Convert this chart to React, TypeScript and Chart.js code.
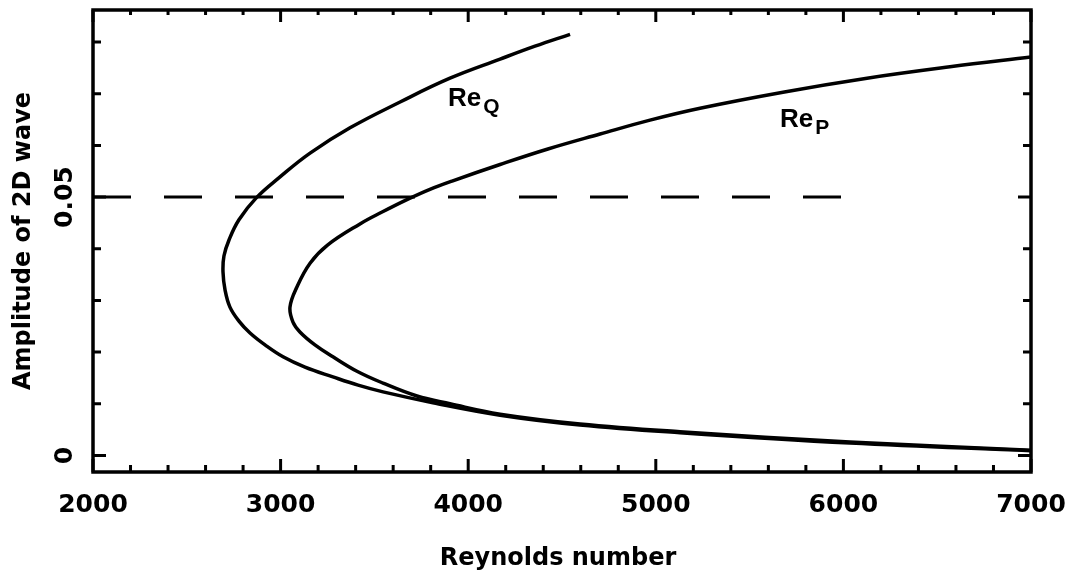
import React, { useEffect, useRef } from "react";
import { Chart, registerables } from "chart.js";

Chart.register(...registerables);

// Neutral curve Re_Q: amplitude of the 2D wave against Reynolds number,
// traced from the upper end, round the nose, out along the lower branch.
const reQ = [4543, 4356, 4170, 3903, 3637, 3370, 3157, 2997, 2869, 2778, 2725, 2698, 2693, 2704, 2730, 2778, 2837, 2917, 3013, 3130, 3279, 3413, 3546, 3812, 4170, 4596, 5129, 6035, 7000];
const ampQ = [0.0815, 0.0792, 0.0767, 0.073, 0.0684, 0.0634, 0.0585, 0.0539, 0.0498, 0.0456, 0.0417, 0.0386, 0.0355, 0.032, 0.0287, 0.026, 0.0237, 0.0214, 0.0191, 0.0171, 0.0152, 0.0136, 0.0123, 0.0102, 0.0078, 0.0059, 0.0044, 0.0024, 0.0009];

// Neutral curve Re_P, from the right-hand upper end back round its nose.
const reP = [7000, 6568, 6126, 5678, 5236, 4969, 4703, 4425, 4170, 3914, 3796, 3679, 3541, 3423, 3250, 3157, 3087, 3050, 3066, 3103, 3183, 3279, 3407, 3546, 3727, 3903, 4170, 4596, 5129, 6035, 7000];
const ampP = [0.0771, 0.0752, 0.073, 0.0703, 0.0672, 0.0649, 0.0622, 0.0593, 0.0563, 0.0531, 0.0515, 0.0496, 0.0471, 0.0448, 0.0407, 0.0372, 0.0326, 0.0287, 0.0258, 0.0239, 0.0214, 0.0191, 0.0163, 0.014, 0.0115, 0.01, 0.008, 0.0061, 0.0046, 0.0026, 0.001];

// Reference amplitude drawn as a dashed level.
const levelRe = [2000, 6000];
const levelAmp = [0.05, 0.05];

// Axis ranges and labels.
const xRange = [2000, 7000];
const yRange = [-0.0032, 0.0862];
const xTickLabels = ["2000", "3000", "4000", "5000", "6000", "7000"];
const xTickValues = [2000, 3000, 4000, 5000, 6000, 7000];
const xMinorStep = 200;
const yTickLabels = ["0", "0.05"];
const yTickValues = [0, 0.05];
const yMinorStep = 0.01;
const yMinorCount = 8;

const xTitle = "Reynolds number";
const yTitle = "Amplitude of 2D wave";

// Curve annotations: main text, subscript, and anchor in data units.
const curveLabels = [
  { main: "Re", sub: "Q", re: 3892, amp: 0.0676 },
  { main: "Re", sub: "P", re: 5662, amp: 0.0635 },
];

const FONT = '"DejaVu Sans", "Liberation Sans", sans-serif';
const LABEL_FONT = '"Liberation Sans", Arial, sans-serif';

const toPoints = (xs: number[], ys: number[]) => xs.map((x, i) => ({ x, y: ys[i] }));

const framePlugin = {
  id: "frameAndText",
  afterDatasetsDraw(chart: any) {
    const ctx: CanvasRenderingContext2D = chart.ctx;
    const { left, right, top, bottom } = chart.chartArea;
    const xs = chart.scales.x;
    const ys = chart.scales.y;
    ctx.save();
    ctx.strokeStyle = "#000";
    ctx.fillStyle = "#000";
    ctx.lineCap = "butt";

    // inward tick marks on all four sides
    ctx.lineWidth = 3;
    const nx = Math.round((xRange[1] - xRange[0]) / xMinorStep);
    for (let i = 0; i <= nx; i++) {
      const v = xRange[0] + i * xMinorStep;
      const major = xTickValues.includes(v);
      const px = xs.getPixelForValue(v);
      const lb = major ? 13 : 7;
      const lt = major ? 12 : 5;
      ctx.beginPath();
      ctx.moveTo(px, bottom);
      ctx.lineTo(px, bottom - lb);
      ctx.moveTo(px, top);
      ctx.lineTo(px, top + lt);
      ctx.stroke();
    }
    for (let i = 0; i <= yMinorCount; i++) {
      const v = i * yMinorStep;
      const major = yTickValues.some((t) => Math.abs(t - v) < 1e-9);
      const py = ys.getPixelForValue(v);
      const l = major ? 13 : 8;
      ctx.beginPath();
      ctx.moveTo(left, py);
      ctx.lineTo(left + l, py);
      ctx.moveTo(right, py);
      ctx.lineTo(right - l, py);
      ctx.stroke();
    }

    // frame
    ctx.lineWidth = 3.5;
    ctx.strokeRect(left, top, right - left, bottom - top);

    // x tick labels
    ctx.font = `bold 25px ${FONT}`;
    ctx.textAlign = "center";
    ctx.textBaseline = "alphabetic";
    xTickLabels.forEach((lab, i) => {
      ctx.fillText(lab, xs.getPixelForValue(xTickValues[i]), bottom + 40);
    });

    // y tick labels, rotated
    yTickLabels.forEach((lab, i) => {
      ctx.save();
      ctx.translate(left - 21, ys.getPixelForValue(yTickValues[i]));
      ctx.rotate(-Math.PI / 2);
      ctx.fillText(lab, 0, 0);
      ctx.restore();
    });

    // axis titles
    ctx.font = `bold 24px ${FONT}`;
    ctx.fillText(xTitle, (left + right) / 2 - 4, 565);
    ctx.save();
    ctx.translate(30, (top + bottom) / 2);
    ctx.rotate(-Math.PI / 2);
    ctx.fillText(yTitle, 0, 0);
    ctx.restore();

    // curve labels with subscripts
    ctx.textAlign = "left";
    curveLabels.forEach((c) => {
      const px = xs.getPixelForValue(c.re);
      const py = ys.getPixelForValue(c.amp);
      ctx.font = `bold 26px ${LABEL_FONT}`;
      ctx.fillText(c.main, px, py);
      const w = ctx.measureText(c.main).width;
      ctx.font = `bold 21px ${LABEL_FONT}`;
      ctx.fillText(c.sub, px + w + 2, py + 7);
    });

    ctx.restore();
  },
};

export default function App() {
  const canvasRef = useRef<HTMLCanvasElement | null>(null);

  useEffect(() => {
    const canvas = canvasRef.current;
    if (!canvas) return;
    const lineStyle = {
      showLine: true,
      pointRadius: 0,
      borderColor: "#000",
      backgroundColor: "#000",
      fill: false,
    };
    const chart = new Chart(canvas, {
      type: "scatter",
      data: {
        datasets: [
          { ...lineStyle, label: "Re_Q", data: toPoints(reQ, ampQ), borderWidth: 3.5, tension: 0.4 },
          { ...lineStyle, label: "Re_P", data: toPoints(reP, ampP), borderWidth: 3.5, tension: 0.4 },
          { ...lineStyle, label: "level", data: toPoints(levelRe, levelAmp), borderWidth: 3, borderDash: [38, 33], tension: 0 },
        ],
      },
      options: {
        animation: false,
        responsive: false,
        devicePixelRatio: 1,
        layout: { padding: { left: 93, top: 10, right: 43, bottom: 102 } },
        plugins: { legend: { display: false }, tooltip: { enabled: false } },
        scales: {
          x: { type: "linear", min: xRange[0], max: xRange[1], display: false },
          y: { type: "linear", min: yRange[0], max: yRange[1], display: false },
        },
      },
      plugins: [framePlugin],
    });
    return () => chart.destroy();
  }, []);

  return (
    <div style={{ position: "absolute", left: 0, top: 0, width: 1074, height: 574, background: "#fff" }}>
      <canvas ref={canvasRef} width={1074} height={574} />
    </div>
  );
}
